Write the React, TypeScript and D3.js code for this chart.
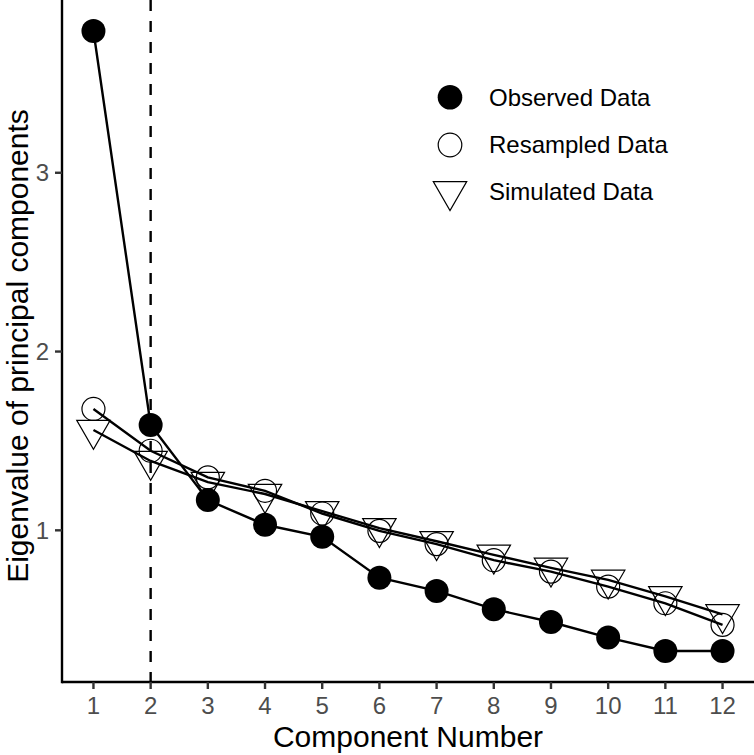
import React from "react";
import * as d3 from "d3";

const components = [1, 2, 3, 4, 5, 6, 7, 8, 9, 10, 11, 12];
const observed = [3.793, 1.589, 1.169, 1.031, 0.964, 0.735, 0.661, 0.559, 0.487, 0.4, 0.325, 0.325];
const resampled = [1.679, 1.445, 1.296, 1.221, 1.094, 0.997, 0.923, 0.833, 0.769, 0.685, 0.592, 0.471];
const simulated = [1.561, 1.388, 1.27, 1.203, 1.107, 1.012, 0.939, 0.863, 0.79, 0.723, 0.631, 0.53];
const yTicks = [1, 2, 3];
const cutoff = 2;
const legendLabels = ["Observed Data", "Resampled Data", "Simulated Data"];

const W = 754;
const H = 755;
const left = 62;
const right = 754;
const top = 0;
const bottom = 682;
const FONT = "'Liberation Sans', Arial, sans-serif";

function triPath(cx: number, cy: number, r: number) {
  const hw = (r * Math.sqrt(3)) / 2;
  return `M${cx - hw},${cy - r / 2}L${cx + hw},${cy - r / 2}L${cx},${cy + r}Z`;
}

export default function App() {
  const all = [...observed, ...resampled, ...simulated];
  const [mn, mx] = d3.extent(all) as [number, number];
  const padY = (mx - mn) * 0.05;
  const x = d3.scaleLinear().domain([1 - 0.55, 12 + 0.55]).range([left, right]);
  const y = d3.scaleLinear().domain([mn - padY, mx + padY]).range([bottom, top]);

  const line = d3
    .line<number>()
    .x((_, i) => x(components[i]))
    .y((d) => y(d));

  const triR = 19.3;
  const lw = 2.4;

  return (
    <svg
      width={W}
      height={H}
      style={{ position: "absolute", left: 0, top: 0, background: "#fff" }}
      fontFamily={FONT}
    >
      <rect x={0} y={0} width={W} height={H} fill="#fff" />
      <line
        x1={x(cutoff)}
        x2={x(cutoff)}
        y1={top}
        y2={bottom}
        stroke="#000"
        strokeWidth={lw}
        strokeDasharray="11,10"
      />
      <path d={line(observed) || ""} fill="none" stroke="#000" strokeWidth={lw} />
      <path d={line(resampled) || ""} fill="none" stroke="#000" strokeWidth={lw} />
      <path d={line(simulated) || ""} fill="none" stroke="#000" strokeWidth={lw} />
      {observed.map((v, i) => (
        <circle key={"o" + i} cx={x(components[i])} cy={y(v)} r={12} fill="#000" />
      ))}
      {resampled.map((v, i) => (
        <circle
          key={"r" + i}
          cx={x(components[i])}
          cy={y(v)}
          r={11.5}
          fill="none"
          stroke="#000"
          strokeWidth={1.2}
        />
      ))}
      {simulated.map((v, i) => (
        <path
          key={"s" + i}
          d={triPath(x(components[i]), y(v), triR)}
          fill="none"
          stroke="#000"
          strokeWidth={1.2}
        />
      ))}
      <line x1={left} x2={right} y1={bottom} y2={bottom} stroke="#000" strokeWidth={lw} />
      <line x1={left} x2={left} y1={top} y2={bottom + 1.2} stroke="#000" strokeWidth={lw} />
      {components.map((c) => (
        <g key={"xt" + c}>
          <line x1={x(c)} x2={x(c)} y1={bottom} y2={bottom + 7} stroke="#333" strokeWidth={lw} />
          <text x={x(c)} y={714} textAnchor="middle" fontSize={24} fill="#4d4d4d">
            {c}
          </text>
        </g>
      ))}
      {yTicks.map((t) => (
        <g key={"yt" + t}>
          <line x1={left - 7} x2={left} y1={y(t)} y2={y(t)} stroke="#333" strokeWidth={lw} />
          <text x={49} y={y(t)} dy="0.35em" textAnchor="end" fontSize={24} fill="#4d4d4d">
            {t}
          </text>
        </g>
      ))}
      <text x={(left + right) / 2} y={747} textAnchor="middle" fontSize={30} fill="#000">
        Component Number
      </text>
      <text
        transform={`translate(27.5,${346}) rotate(-90)`}
        textAnchor="middle"
        fontSize={30}
        fill="#000"
      >
        Eigenvalue of principal components
      </text>
      <g>
        <circle cx={450} cy={97.3} r={12.3} fill="#000" />
        <circle cx={450} cy={145} r={11.8} fill="none" stroke="#000" strokeWidth={1.2} />
        <path d={triPath(450, 191.3, triR)} fill="none" stroke="#000" strokeWidth={1.2} />
        {legendLabels.map((l, i) => (
          <text key={l} x={489} y={98 + i * 47} dy="0.35em" fontSize={24} fill="#000">
            {l}
          </text>
        ))}
      </g>
    </svg>
  );
}
